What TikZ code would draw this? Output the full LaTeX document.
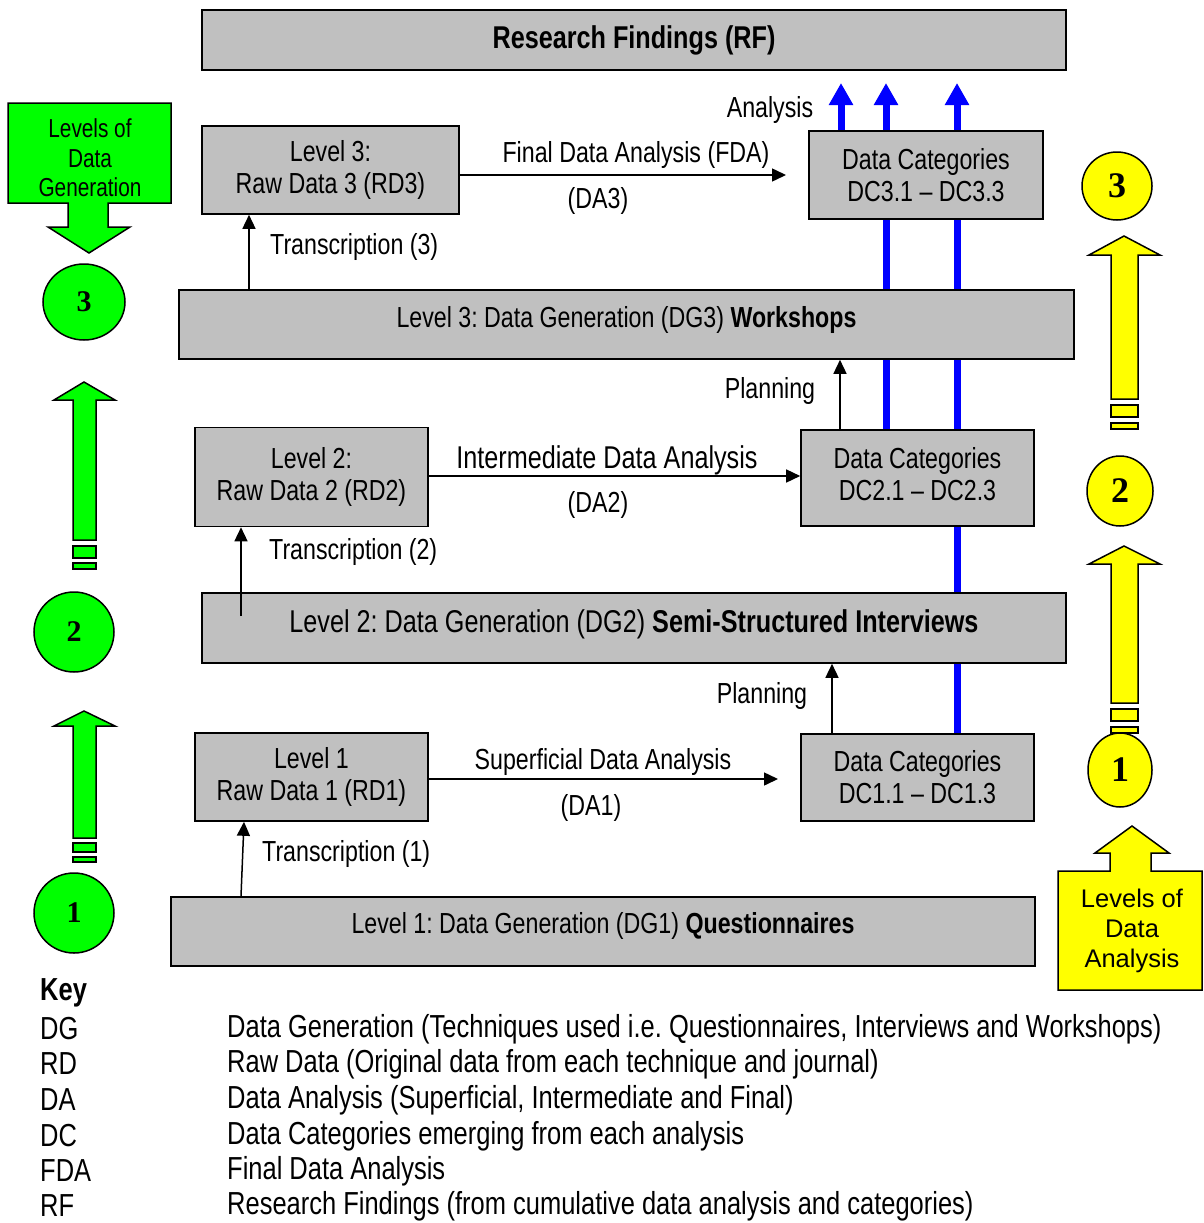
\documentclass[tikz,border=0pt]{standalone}
\usepackage{fontspec}
\setmainfont{Liberation Sans}[FakeStretch=0.8]
\newfontfamily\widesans{Liberation Sans}
\newfontfamily\numserif{Liberation Serif}
\usetikzlibrary{arrows.meta,shapes.geometric}
\definecolor{boxgray}{HTML}{C0C0C0}
\definecolor{ggreen}{HTML}{00FF00}
\definecolor{yyellow}{HTML}{FFFF00}
\definecolor{bblue}{HTML}{0000FF}
\frenchspacing
\begin{document}
\begin{tikzpicture}[x=1pt,y=-1pt,
  box/.style={draw=black, line width=1.6pt, fill=boxgray, inner sep=0pt, align=center, font=\fontsize{29}{32}\selectfont},
  bigbox/.style={box, font=\fontsize{31.5}{35}\selectfont},
  lbl/.style={inner sep=0pt, font=\fontsize{29}{32}\selectfont},
  biglbl/.style={inner sep=0pt, font=\fontsize{31.5}{35}\selectfont},
  keylbl/.style={inner sep=0pt, font=\fontsize{31.85}{35}\selectfont},
  conn/.style={draw=black, line width=1.5pt, -{Triangle[length=14pt,width=13pt]}},
  bluearr/.style={draw=bblue, line width=7pt},
  bluehead/.style={bluearr, -{Triangle[length=22pt,width=23pt]}},
  gshape/.style={draw=black, line width=1.5pt, fill=ggreen},
  yshape/.style={draw=black, line width=1.5pt, fill=yyellow},
  gcirc/.style={ellipse, draw=black, line width=1.5pt, fill=ggreen, inner sep=0pt, font=\numserif\bfseries\fontsize{30}{30}\selectfont},
  ycirc/.style={ellipse, draw=black, line width=1.5pt, fill=yyellow, inner sep=0pt, font=\numserif\bfseries\fontsize{36}{36}\selectfont}
]
\useasboundingbox (0,0) rectangle (1204,1223);

% ---------- boxes ----------
\node[bigbox, minimum width=864pt, minimum height=60pt, text depth=5pt] (rf) at (634,40) {\bfseries Research Findings (RF)};
\node[box, minimum width=257pt, minimum height=88pt] (rd3) at (330.5,170) {Level 3:\\Raw Data 3 (RD3)};
\node[box, minimum width=234pt, minimum height=88pt] (dc3) at (926,175) {Data Categories\\DC3.1 – DC3.3};
\node[box, minimum width=895pt, minimum height=69pt, text depth=16pt] (dg3) at (626.5,324.5) {Level 3: Data Generation (DG3) \textbf{Workshops}};
\node[box, minimum width=233pt, minimum height=99pt] (rd2) at (311.5,477) {Level 2:\\Raw Data 2 (RD2)};
\node[box, minimum width=233pt, minimum height=96pt, text depth=8pt] (dc2) at (917.5,478) {Data Categories\\DC2.1 – DC2.3};
\node[bigbox, minimum width=864pt, minimum height=70pt, text depth=14pt] (dg2) at (634,628) {Level 2: Data Generation (DG2) \textbf{Semi-Structured Interviews}};
\node[box, minimum width=233pt, minimum height=88pt] (rd1) at (311.5,777) {Level 1\\Raw Data 1 (RD1)};
\node[box, minimum width=233pt, minimum height=87pt] (dc1) at (917.5,777.5) {Data Categories\\DC1.1 – DC1.3};
\node[box, minimum width=864pt, minimum height=69pt, text depth=18pt] (dg1) at (603,931.5) {Level 1: Data Generation (DG1) \textbf{Questionnaires}};

% ---------- blue analysis lines ----------
\coordinate (ta) at (841,83);
\coordinate (tb) at (886,83);
\coordinate (tc) at (957,83);
\draw[bluehead] (dc3.north -| ta) -- (ta);
\draw[bluehead] (dc3.north -| tb) -- (tb);
\draw[bluehead] (dc3.north -| tc) -- (tc);
\draw[bluearr] (dc3.south -| tb) -- (dg3.north -| tb);
\draw[bluearr] (dc3.south -| tc) -- (dg3.north -| tc);
\draw[bluearr] (dg3.south -| tb) -- (dc2.north -| tb);
\draw[bluearr] (dg3.south -| tc) -- (dc2.north -| tc);
\draw[bluearr] (dc2.south -| tc) -- (dg2.north -| tc);
\draw[bluearr] (dg2.south -| tc) -- (dc1.north -| tc);
\node[lbl] (lanalysis) at (770,110) {Analysis};

% ---------- analysis arrows ----------
\coordinate (fdaend) at (786,175);
\draw[conn] (rd3.east |- fdaend) -- (fdaend);
\node[lbl] (lfda) at (636,155) {Final Data Analysis (FDA)};
\node[lbl] (lda3) at (598,201) {(DA3)};

\draw[conn] (rd2.east |- 0,476) -- (dc2.west |- 0,476);
\node[biglbl] (lida) at (607,460) {Intermediate Data Analysis};
\node[lbl] (lda2) at (598,505) {(DA2)};

\coordinate (sdaend) at (778,779);
\draw[conn] (rd1.east |- sdaend) -- (sdaend);
\node[lbl] (lsda) at (603,762) {Superficial Data Analysis};
\node[lbl] (lda1) at (591,808) {(DA1)};

% ---------- transcription arrows ----------
\coordinate (tr3) at (249,0);
\draw[conn] (dg3.north -| tr3) -- (rd3.south -| tr3);
\node[lbl, anchor=west] (ltr3) at (270,247) {Transcription (3)};
\coordinate (tr2s) at (241,616);
\draw[conn] (tr2s) -- (rd2.south -| tr2s);
\node[lbl, anchor=west] (ltr2) at (269,552) {Transcription (2)};
\coordinate (tr1s) at (241,0);
\coordinate (tr1e) at (244,0);
\draw[conn] (dg1.north -| tr1s) -- (rd1.south -| tr1e);
\node[lbl, anchor=west] (ltr1) at (262,854) {Transcription (1)};

% ---------- planning arrows ----------
\coordinate (pl2) at (840,0);
\draw[conn] (dc2.north -| pl2) -- (dg3.south -| pl2);
\node[lbl] (lpl2) at (770,391) {Planning};
\coordinate (pl1) at (832,0);
\draw[conn] (dc1.north -| pl1) -- (dg2.south -| pl1);
\node[lbl] (lpl1) at (762,696) {Planning};

% ---------- green side ----------
\draw[gshape] (8,103) -- (171,103) -- (171,203) -- (108,203) -- (108,227) -- (130,227) -- (89,253) -- (48,227) -- (68,227) -- (68,203) -- (8,203) -- cycle;
\node[inner sep=0pt, align=center, font=\fontsize{26}{29.5}\selectfont] (gcall) at (90,158) {Levels of\\Data\\Generation};
\node[gcirc, minimum width=82pt, minimum height=76pt] (g3) at (84,302) {3};
\node[gcirc, minimum width=80pt, minimum height=80pt] (g2) at (74,632) {2};
\node[gcirc, minimum width=80pt, minimum height=80pt] (g1) at (74,913) {1};
% upper green arrow
\draw[gshape] (73,540) -- (73,400) -- (54,400) -- (84,382) -- (115,400) -- (96,400) -- (96,540) -- cycle;
\draw[gshape] (73,546) rectangle (96,558);
\draw[gshape] (73,563) rectangle (96,569);
% lower green arrow
\draw[gshape] (73,838) -- (73,726) -- (54,726) -- (84,711) -- (115,726) -- (96,726) -- (96,838) -- cycle;
\draw[gshape] (73,843) rectangle (96,852);
\draw[gshape] (73,857) rectangle (96,862);

% ---------- yellow side ----------
\draw[yshape] (1058,871) -- (1110,871) -- (1110,853) -- (1095,853) -- (1132,826) -- (1169,853) -- (1151,853) -- (1151,871) -- (1202,871) -- (1202,990) -- (1058,990) -- cycle;
\node[inner sep=0pt, align=center, font=\widesans\fontsize{25.5}{30}\selectfont] (ycall) at (1132,931) {Levels of\\Data\\Analysis};
\node[ycirc, minimum width=70pt, minimum height=68pt] (y3) at (1117,186) {3};
\node[ycirc, minimum width=66pt, minimum height=70pt] (y2) at (1120,491) {2};
\node[ycirc, minimum width=64pt, minimum height=74pt] (y1) at (1120,770) {1};
% upper yellow arrow
\draw[yshape] (1111,399) -- (1111,255) -- (1089,255) -- (1124,236) -- (1160,255) -- (1138,255) -- (1138,399) -- cycle;
\draw[yshape] (1111,405) rectangle (1138,417);
\draw[yshape] (1111,423) rectangle (1138,429);
% lower yellow arrow
\draw[yshape] (1111,703) -- (1111,564) -- (1089,564) -- (1124,546) -- (1160,564) -- (1138,564) -- (1138,703) -- cycle;
\draw[yshape] (1111,709) rectangle (1138,721);
\draw[yshape] (1111,727) rectangle (1138,733);

% ---------- key ----------
\node[keylbl, anchor=west] (key) at (40,993) {\bfseries Key};
\node[keylbl, anchor=west] (kdg) at (40,1029) {DG};
\node[keylbl, anchor=west] (krd) at (40,1064) {RD};
\node[keylbl, anchor=west] (kda) at (40,1100) {DA};
\node[keylbl, anchor=west] (kdc) at (40,1136) {DC};
\node[keylbl, anchor=west] (kfda) at (40,1171) {FDA};
\node[keylbl, anchor=west] (krf) at (40,1206) {RF};
\node[keylbl, anchor=west] (ddg) at (227,1029) {Data Generation (Techniques used i.e. Questionnaires, Interviews and Workshops)};
\node[keylbl, anchor=west] (drd) at (227,1064) {Raw Data (Original data from each technique and journal)};
\node[keylbl, anchor=west] (dda) at (227,1100) {Data Analysis (Superficial, Intermediate and Final)};
\node[keylbl, anchor=west] (ddc) at (227,1136) {Data Categories emerging from each analysis};
\node[keylbl, anchor=west] (dfda) at (227,1171) {Final Data Analysis};
\node[keylbl, anchor=west] (drf) at (227,1206) {Research Findings (from cumulative data analysis and categories)};
\end{tikzpicture}
\end{document}
